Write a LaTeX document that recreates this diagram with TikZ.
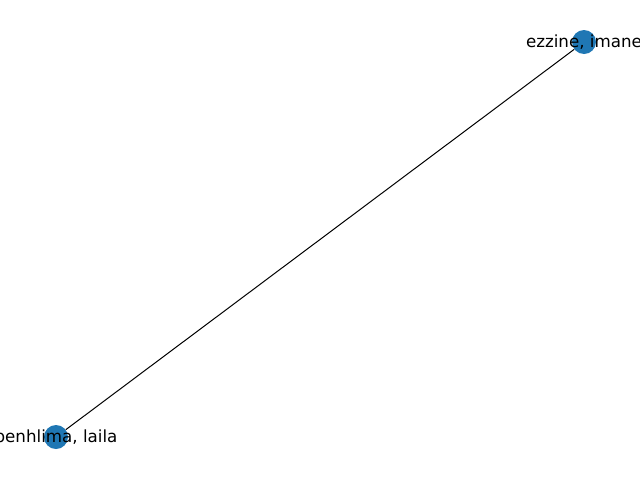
\documentclass[tikz,border=0pt]{standalone}
\usepackage{fontspec}
\setmainfont{DejaVu Sans}
\definecolor{nodeblue}{HTML}{1F77B4}
\tikzset{
  gnode/.style={circle,fill=nodeblue,inner sep=0pt,minimum size=24pt},
  glabel/.style={font=\fontsize{16.7}{20}\selectfont,inner sep=0pt,text=black},
  gedge/.style={draw=black,line width=1pt}
}
\begin{document}
\begin{tikzpicture}[x=1pt,y=-1pt]
\useasboundingbox (0,0) rectangle (640,480);
\node[gnode] (a) at (584,42) {};
\node[gnode] (b) at (56,437) {};
\draw[gedge] (a) -- (b);
\node[glabel] (la) at (584,42) {ezzine, imane};
\node[glabel] (lb) at (56,437) {benhlima, laila};
\end{tikzpicture}
\end{document}
